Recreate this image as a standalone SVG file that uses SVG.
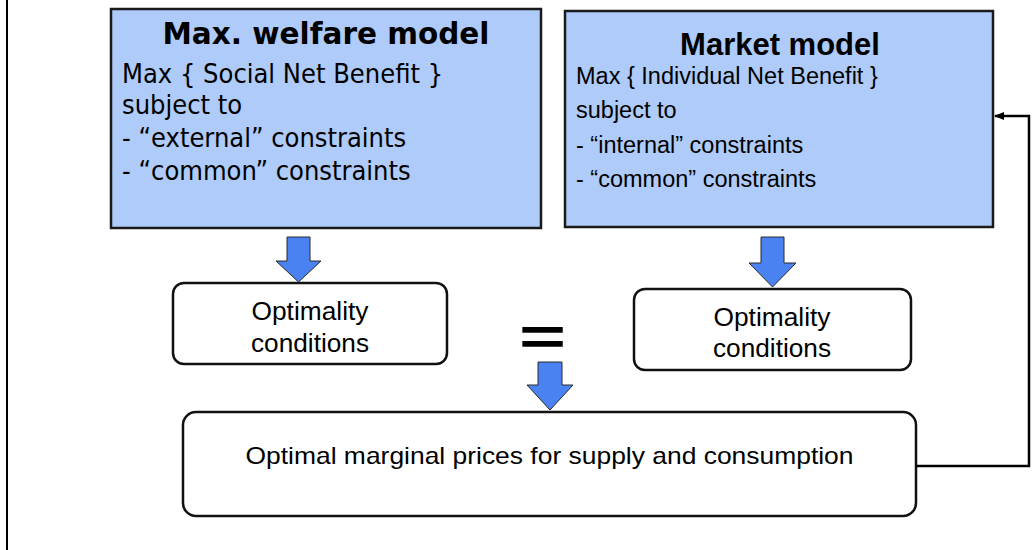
<svg xmlns="http://www.w3.org/2000/svg" width="1035" height="550" viewBox="0 0 1035 550">
  <defs>
    <style>
      .model { fill: #AFCBFA; stroke: #1a1a1a; stroke-width: 2.5; }
      .cond { fill: #ffffff; stroke: #111111; stroke-width: 2.5; }
      .blk { fill: #4A82F2; stroke: #2a2a2a; stroke-width: 1; stroke-linejoin: miter; }
      .verd { font-family: "DejaVu Sans Condensed", "DejaVu Sans", sans-serif; fill: #000; }
      .verdb { font-family: "DejaVu Sans", sans-serif; font-weight: bold; fill: #000; }
      .ar { font-family: "Liberation Sans", Arial, sans-serif; fill: #000; }
      .wire { fill: none; stroke: #000; stroke-width: 2.5; }
    </style>
    <marker id="tip" markerWidth="10" markerHeight="8" refX="9" refY="4" orient="auto" markerUnits="userSpaceOnUse">
      <path d="M0,0 L10,4 L0,8 Z" fill="#000"/>
    </marker>
  </defs>

  <rect width="1035" height="550" fill="#ffffff"/>

  <!-- page edge -->
  <line x1="7" y1="0" x2="7" y2="550" stroke="#000" stroke-width="2"/>

  <!-- welfare maximisation formulation -->
  <g id="welfare-model">
    <rect class="model" x="111" y="9" width="430" height="219"/>
    <text class="verdb" x="326" y="44" font-size="29.5" text-anchor="middle">Max. welfare model</text>
    <text class="verd" font-size="27" x="122" y="83">Max { Social Net Benefit }</text>
    <text class="verd" font-size="27" x="122" y="114">subject to</text>
    <text class="verd" font-size="27" x="122" y="147">- “external” constraints</text>
    <text class="verd" font-size="27" x="122" y="180">- “common” constraints</text>
  </g>

  <!-- market formulation -->
  <g id="market-model">
    <rect class="model" x="565" y="11" width="428" height="216"/>
    <text class="ar" x="780" y="55" font-size="31" font-weight="bold" text-anchor="middle">Market model</text>
    <text class="ar" font-size="23.5" x="576" y="84">Max { Individual Net Benefit }</text>
    <text class="ar" font-size="23.5" x="576" y="118">subject to</text>
    <text class="ar" font-size="23.5" x="576" y="153">- “internal” constraints</text>
    <text class="ar" font-size="23.5" x="576" y="187">- “common” constraints</text>
  </g>

  <g id="welfare-optimality">
    <rect class="cond" x="173" y="283" width="274" height="81" rx="11"/>
    <text class="ar" font-size="25" x="310" y="320" text-anchor="middle" textLength="117" lengthAdjust="spacingAndGlyphs">Optimality</text>
    <text class="ar" font-size="25" x="310" y="352" text-anchor="middle" textLength="118" lengthAdjust="spacingAndGlyphs">conditions</text>
  </g>

  <g id="market-optimality">
    <rect class="cond" x="634" y="289" width="277" height="81" rx="11"/>
    <text class="ar" font-size="25" x="772" y="326" text-anchor="middle" textLength="117" lengthAdjust="spacingAndGlyphs">Optimality</text>
    <text class="ar" font-size="25" x="772" y="357" text-anchor="middle" textLength="118" lengthAdjust="spacingAndGlyphs">conditions</text>
  </g>

  <g id="equivalence">
    <text class="ar" font-size="52" font-weight="bold" text-anchor="middle" transform="translate(542.5 355) scale(1.55 1)" x="0" y="0">=</text>
  </g>

  <g id="marginal-prices">
    <rect class="cond" x="183" y="412" width="733" height="104" rx="13"/>
    <text class="ar" font-size="24" x="549.5" y="464" text-anchor="middle" textLength="608" lengthAdjust="spacingAndGlyphs">Optimal marginal prices for supply and consumption</text>
  </g>

  <g id="connectors">
    <!-- block arrows -->
    <path class="blk" d="M287,237 H310 V261 H321 L298.5,282 L276,261 H287 Z"/>
    <path class="blk" d="M761,237 H784 V263 H796 L772.5,287 L749,263 H761 Z"/>
    <path class="blk" d="M538,362 H562 V385 H573 L550,410 L527,385 H538 Z"/>
    <!-- feedback from prices back to market model -->
    <path class="wire" d="M916,466 H1029 V116 H995" marker-end="url(#tip)"/>
  </g>
</svg>
